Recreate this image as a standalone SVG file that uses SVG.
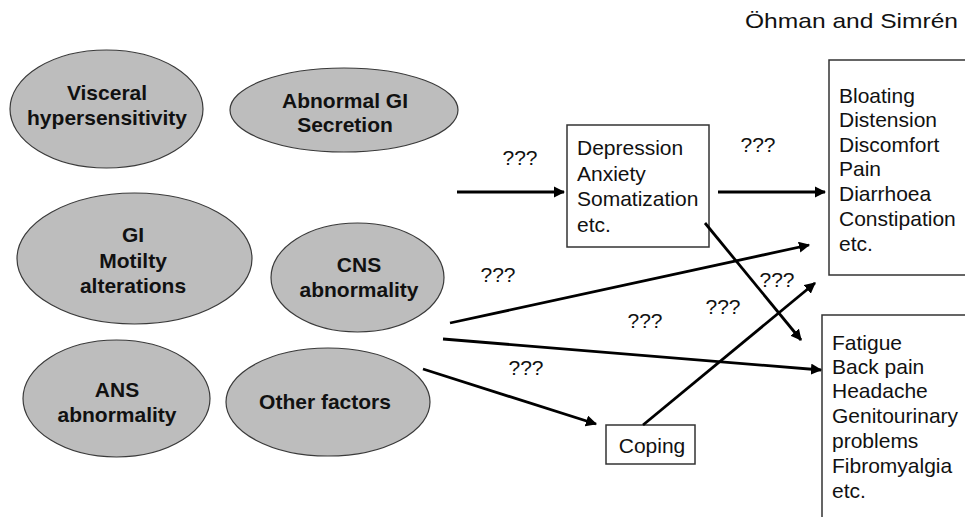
<svg xmlns="http://www.w3.org/2000/svg" width="965" height="517" viewBox="0 0 965 517">
<style>
.bg{fill:#ffffff}
.ell{fill:#bdbdbd;stroke:#3a3a3a;stroke-width:1.2}
.box{fill:#ffffff;stroke:#333333;stroke-width:1.5}
.bt{font-family:"Liberation Sans",Arial,sans-serif;font-weight:bold;font-size:21px;fill:#111;text-anchor:middle}
.rt{font-family:"Liberation Sans",Arial,sans-serif;font-size:21px;fill:#111}
.lbl{font-family:"Liberation Sans",Arial,sans-serif;font-size:21px;fill:#111;text-anchor:middle}
.con{stroke:#000;stroke-width:2.8;fill:none;marker-end:url(#ah)}
</style>
<defs>
<marker id="ah" viewBox="0 0 10 10" refX="9" refY="5" markerWidth="4" markerHeight="4" orient="auto" markerUnits="strokeWidth">
<path d="M0,0 L10,5 L0,10 z" fill="#000"/>
</marker>
</defs>
<rect class="bg" x="0" y="0" width="965" height="517"/>
<text class="rt" x="745" y="28" font-size="23" textLength="213" lengthAdjust="spacingAndGlyphs">Öhman and Simrén</text>

<g id="visceral">
<ellipse class="ell" cx="106.5" cy="109" rx="96.5" ry="59"/>
<text class="bt" x="107" y="100">Visceral</text>
<text class="bt" x="107" y="125">hypersensitivity</text>
</g>
<g id="abnormal-gi">
<ellipse class="ell" cx="344" cy="110" rx="114" ry="42"/>
<text class="bt" x="345" y="108">Abnormal GI</text>
<text class="bt" x="345" y="132">Secretion</text>
</g>
<g id="gi-motility">
<ellipse class="ell" cx="134.5" cy="258.5" rx="117.5" ry="65.5"/>
<text class="bt" x="133" y="242">GI</text>
<text class="bt" x="133" y="268">Motilty</text>
<text class="bt" x="133" y="293">alterations</text>
</g>
<g id="cns">
<ellipse class="ell" cx="357.5" cy="277.5" rx="86.5" ry="54.5"/>
<text class="bt" x="359" y="272">CNS</text>
<text class="bt" x="359" y="297">abnormality</text>
</g>
<g id="ans">
<ellipse class="ell" cx="116.5" cy="398.5" rx="93.5" ry="58.5"/>
<text class="bt" x="117" y="397">ANS</text>
<text class="bt" x="117" y="422">abnormality</text>
</g>
<g id="other">
<ellipse class="ell" cx="328" cy="402" rx="102" ry="54"/>
<text class="bt" x="325" y="409">Other factors</text>
</g>

<g id="psych">
<rect class="box" x="567" y="125" width="142" height="122"/>
<text class="rt" x="577" y="155">Depression</text>
<text class="rt" x="577" y="181">Anxiety</text>
<text class="rt" x="577" y="206">Somatization</text>
<text class="rt" x="577" y="232">etc.</text>
</g>
<g id="gi-symptoms">
<rect class="box" x="829" y="60" width="150" height="215"/>
<text class="rt" x="839" y="103">Bloating</text>
<text class="rt" x="839" y="127">Distension</text>
<text class="rt" x="839" y="152">Discomfort</text>
<text class="rt" x="839" y="176">Pain</text>
<text class="rt" x="839" y="201">Diarrhoea</text>
<text class="rt" x="839" y="226">Constipation</text>
<text class="rt" x="839" y="251">etc.</text>
</g>
<g id="other-symptoms">
<rect class="box" x="822" y="315" width="160" height="220"/>
<text class="rt" x="832" y="350">Fatigue</text>
<text class="rt" x="832" y="374">Back pain</text>
<text class="rt" x="832" y="398">Headache</text>
<text class="rt" x="832" y="423">Genitourinary</text>
<text class="rt" x="832" y="448">problems</text>
<text class="rt" x="832" y="473">Fibromyalgia</text>
<text class="rt" x="832" y="498">etc.</text>
</g>
<g id="coping">
<rect class="box" x="606" y="425" width="89" height="39"/>
<text class="rt" x="652" y="453" text-anchor="middle">Coping</text>
</g>

<g id="connectors">
<line class="con" x1="457" y1="192" x2="564" y2="192"/>
<line class="con" x1="718" y1="192" x2="825" y2="192"/>
<line class="con" x1="450" y1="323" x2="809" y2="245"/>
<line class="con" x1="443" y1="339" x2="821" y2="370"/>
<line class="con" x1="423" y1="369" x2="596" y2="424"/>
<line class="con" x1="643" y1="425" x2="815" y2="283"/>
<line class="con" x1="705" y1="223" x2="801" y2="340"/>
</g>
<g id="labels">
<text class="lbl" x="520" y="165">???</text>
<text class="lbl" x="758" y="152">???</text>
<text class="lbl" x="498" y="282">???</text>
<text class="lbl" x="777" y="287">???</text>
<text class="lbl" x="723" y="314">???</text>
<text class="lbl" x="645" y="328">???</text>
<text class="lbl" x="526" y="375">???</text>
</g>
</svg>
